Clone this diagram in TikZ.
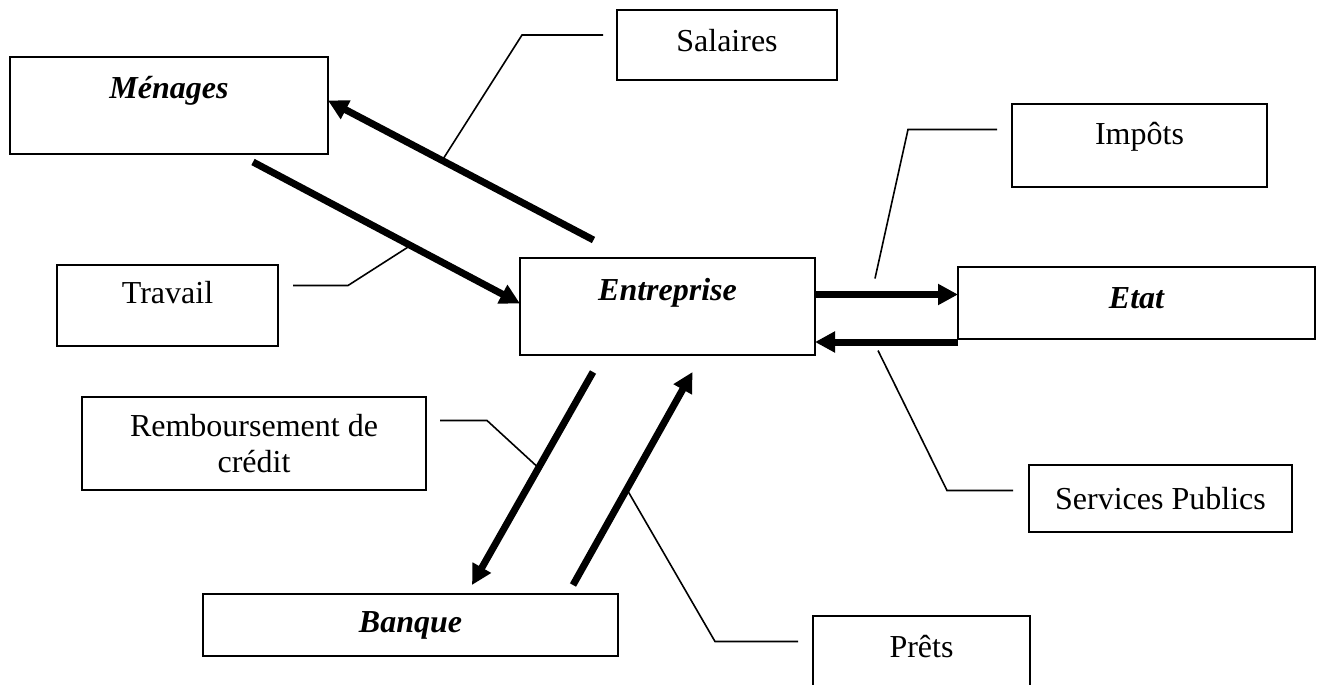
\documentclass[tikz,border=0pt]{standalone}
\usepackage{fontspec}
\setmainfont{Liberation Serif}
\usetikzlibrary{arrows.meta}
\tikzset{
  bloc/.style={draw, line width=2.2pt, inner sep=0pt, outer sep=0pt, anchor=north west,
    font=\fontsize{32}{36}\selectfont},
  titre/.style={font=\fontsize{32}{36}\selectfont\bfseries\itshape},
  flux/.style={line width=7pt, -{Triangle[length=20pt,width=20pt]}},
  fil/.style={line width=1.6pt},
}

\begin{document}
\begin{tikzpicture}[x=1pt, y=-1pt]
      \useasboundingbox (0,0) rectangle (1333,685);

      \node[bloc,titre,minimum width=318pt,text height=41pt,text depth=56pt] (menages) at (10,57) {Ménages};
      \node[bloc,minimum width=220pt,text height=42pt,text depth=28pt] (salaires) at (617,10) {Salaires};
      \node[bloc,minimum width=255pt,text height=40pt,text depth=43pt] (impots) at (1012,104) {Impôts};
      \node[bloc,titre,minimum width=295pt,text height=42pt,text depth=55pt] (entreprise) at (520,258) {Entreprise};
      \node[bloc,titre,minimum width=357pt,text height=41pt,text depth=31pt] (etat) at (958,267) {Etat};
      \node[bloc,minimum width=221pt,text height=38pt,text depth=43pt] (travail) at (57,265) {Travail};
      \node[bloc,minimum width=344pt,minimum height=93pt,align=center] (rembours) at (82,397) {Remboursement de\\crédit};
      \node[bloc,minimum width=263pt,minimum height=67pt] (services) at (1029,465) {Services Publics};
      \node[bloc,titre,minimum width=415pt,minimum height=62pt] (banque) at (203,594) {Banque};
      \node[bloc,minimum width=217pt,text height=41pt,text depth=34pt] (prets) at (813,616) {Prêts};

      \coordinate (imp) at ([yshift=12pt]entreprise.east);
      \coordinate (serv) at ([yshift=-3pt]etat.south west);

      \draw[flux] ([xshift=-74pt,yshift=18pt]entreprise.north) -- coordinate[pos=0.57] (psal) ([yshift=5pt]menages.east);
      \draw[flux] ([xshift=-75pt,yshift=-8pt]menages.south east) -- coordinate[pos=0.59] (ptrav) ([yshift=3pt]entreprise.west);
      \draw[flux] (imp) -- (imp -| etat.west);
      \draw[flux] (serv) -- (serv -| entreprise.east);
      \draw[flux] ([xshift=73pt,yshift=-17pt]entreprise.south west) -- coordinate[pos=0.45] (prem) ([xshift=269pt,yshift=9pt]banque.north west);
      \draw[flux] ([xshift=-45pt,yshift=9pt]banque.north east) -- coordinate[pos=0.45] (ppret) ([xshift=25pt,yshift=-17pt]entreprise.south);

      \draw[fil] ([xshift=-14pt,yshift=10pt]salaires.west) -- ++(-81,0) -- (psal);
      \draw[fil] ([xshift=15pt,yshift=20pt]travail.east) -- ++(55,0) -- (ptrav);
      \draw[fil] ([xshift=-15pt,yshift=16pt]impots.west) -- ++(-89,0) -- ++(-33,149);
      \draw[fil] ([xshift=-16pt,yshift=8pt]services.west) -- ++(-66,0) -- ++(-69,-140);
      \draw[fil] ([xshift=-15pt,yshift=12pt]prets.west) -- ++(-83,0) -- (ppret);
      \draw[fil] ([xshift=14pt,yshift=23pt]rembours.east) -- ++(47,0) -- (prem);
    \end{tikzpicture}
\end{document}
